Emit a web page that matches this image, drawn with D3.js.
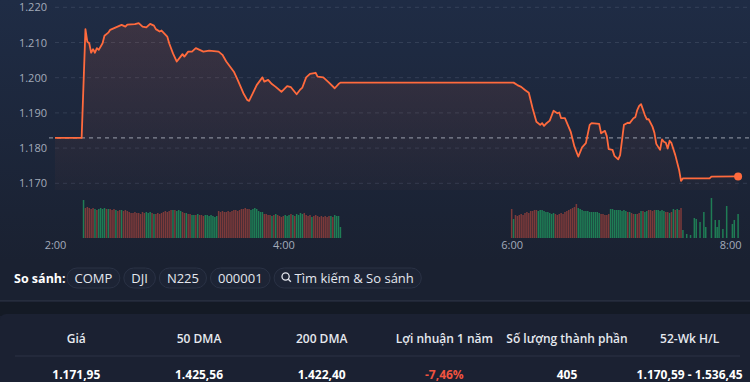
<!DOCTYPE html>
<html>
<head>
<meta charset="utf-8">
<script src="https://cdn.jsdelivr.net/npm/d3@7"></script>
<style>
html, body { margin: 0; padding: 0; background: #1a2030; overflow: hidden; }
svg { display: block; font-family: "Open Sans", "Noto Sans", sans-serif; }
</style>
</head>
<body>
<div id="chart"></div>
<script>
// ---- data ----
var prevClose = 1182.9;

var price = [
  ["2:00",1182.9],["2:14",1182.9],["2:16",1213.8],["2:17",1210.2],["2:18",1209.8],["2:19",1207.1],
  ["2:20",1208.1],["2:21",1207.1],["2:22",1208.4],["2:23",1207.9],["2:25",1209.8],["2:26",1211.9],
  ["2:28",1212.8],["2:29",1213.6],["2:32",1214.3],["2:35",1215.0],["2:37",1214.5],["2:38",1215.1],
  ["2:42",1215.2],["2:44",1215.5],["2:46",1214.5],["2:48",1214.3],["2:50",1215.3],["2:52",1214.8],
  ["2:53",1213.8],["2:55",1213.1],["2:56",1213.4],["2:59",1211.7],["3:00",1209.8],["3:02",1206.9],
  ["3:04",1204.6],["3:06",1206.0],["3:07",1206.7],["3:08",1206.0],["3:10",1207.4],["3:12",1207.4],
  ["3:14",1208.4],["3:18",1207.4],["3:21",1207.7],["3:26",1207.4],["3:28",1206.5],["3:30",1204.6],
  ["3:34",1201.7],["3:36",1199.4],["3:39",1195.6],["3:41",1193.7],["3:42",1193.4],["3:44",1195.6],
  ["3:46",1197.9],["3:49",1200.1],["3:50",1198.9],["3:52",1199.4],["3:54",1198.2],["3:56",1197.4],
  ["3:59",1196.0],["4:02",1197.6],["4:04",1197.3],["4:07",1195.3],["4:09",1196.7],["4:10",1197.2],
  ["4:12",1200.1],["4:14",1201.1],["4:17",1201.4],["4:18",1200.3],["4:21",1200.1],["4:24",1198.6],
  ["4:27",1197.0],["4:29",1198.2],["4:30",1198.6],["6:01",1198.6],["6:03",1197.9],["6:05",1197.4],
  ["6:07",1196.5],["6:09",1195.7],["6:11",1191.3],["6:13",1187.5],["6:15",1186.6],["6:16",1187.1],
  ["6:17",1186.3],["6:18",1186.9],["6:20",1187.8],["6:22",1190.6],["6:24",1189.9],["6:25",1190.1],
  ["6:26",1188.5],["6:28",1188.5],["6:31",1184.7],["6:33",1180.4],["6:35",1177.6],["6:37",1180.2],
  ["6:39",1181.4],["6:41",1186.6],["6:42",1187.1],["6:46",1186.9],["6:47",1184.2],["6:49",1184.9],
  ["6:50",1183.4],["6:51",1179.7],["6:53",1179.5],["6:54",1177.8],["6:56",1176.8],["6:57",1178.0],
  ["6:59",1186.6],["7:01",1187.2],["7:02",1187.1],["7:04",1188.5],["7:05",1188.8],["7:06",1190.8],
  ["7:07",1192.0],["7:08",1192.5],["7:10",1189.4],["7:11",1188.2],["7:12",1188.2],["7:14",1186.1],
  ["7:15",1184.4],["7:16",1181.2],["7:18",1179.5],["7:19",1182.5],["7:20",1181.8],["7:21",1181.5],
  ["7:22",1179.9],["7:23",1182.1],["7:24",1181.4],["7:26",1178.0],["7:28",1173.8],["7:29",1170.7],
  ["7:30",1171.4],["7:44",1171.4],["7:45",1171.9],["7:59",1171.95]
];

// volume, one bar per minute; g = up (green), r = down (red)
var volStart1 = "2:15";
var volume1 = [
  38,30,31,30,29,30,29,28,29,30, 29,30,29,29,29,28,29,28,27,28,
  28,27,28,27,26,25,25,26,25,25, 24,26,25,26,25,26,25,24,24,25,
  24,25,26,27,26,27,28,28,28,27, 28,27,26,25,25,24,24,23,23,23,
  24,23,23,22,23,23,22,23,22,21, 22,27,26,27,26,26,27,26,27,28,
  28,27,28,29,29,30,29,29,28,29, 30,29,27,26,26,24,24,23,23,22,
  23,24,23,22,21,22,23,22,23,24, 23,22,24,23,25,24,25,23,22,23,
  21,22,23,22,21,22,21,22,21,22, 22,21,23,22,22,11
];
var dir1 = ("grrrrrgrggggrgrrrgrrgrrrrrrrrrrrrgggrgrrrrrrrrrgrgggrrgrrggrgrrr" +
            "gggggggrrrrrrrrrrrrrrrrrgggggggrrrrgrgrrrrgggrgrggggrrrrgrrrrrrrrrgrgggg").split("");

var volStart2 = "6:00";
var volume2 = [
  29,19,23,22,23,24,23,25,26,25, 27,27,28,28,27,28,28,27,26,26,
  25,24,25,24,23,24,25,24,26,27, 28,29,30,31,34,30,29,28,27,27,
  27,26,26,26,26,26,25,24,24,23, 23,24,29,29,28,28,28,28,27,28,
  27,26,26,25,24,24,24,25,27,27, 26,27,28,28,27,28,28,28,27,28,
  27,26,26,25,26,29,28,29,28,30
];
var dir2 = ("rgrrrrrrrrrrrrgggggggggrrrrrrrrrrrrggggggggggggrrrrrggggggggg" +
            "rgrrgrrgrggrrrrgggggrrgrgrgrr").split("");

var volumeTail = [
  ["7:30",8],["7:32",4],["7:34",3],["7:36",20],["7:37",19],["7:39",16],["7:41",26],["7:42",11],
  ["7:45",40],["7:47",18],["7:48",11],["7:49",18],["7:51",9],["7:53",32],["7:56",14],["7:57",18],["7:59",24]
];

var yTicks = [1170, 1180, 1190, 1200, 1210, 1220];
var xTicks = ["2:00", "4:00", "6:00", "8:00"];

var compareItems = ["COMP", "DJI", "N225", "000001", "Tìm kiếm & So sánh"];

var statHeaders = ["Giá", "50 DMA", "200 DMA", "Lợi nhuận 1 năm", "Số lượng thành phần", "52-Wk H/L"];
var statValues = ["1.171,95", "1.425,56", "1.422,40", "-7,46%", "405", "1.170,59 - 1.536,45"];

// ---- setup ----
var width = 750, height = 382;
var vn = d3.formatLocale({decimal: ",", thousands: ".", grouping: [3], currency: ["", ""]});

function toTime(s) {
  var p = s.split(":");
  return new Date(2024, 0, 1, +p[0], +p[1]);
}
function addMin(s, m) {
  var t = toTime(s);
  return new Date(t.getTime() + m * 60000);
}

var svg = d3.select("#chart").append("svg")
  .attr("width", width)
  .attr("height", height);

var defs = svg.append("defs");
var bg = defs.append("linearGradient").attr("id", "bg").attr("x1", 0).attr("x2", 0).attr("y1", 0).attr("y2", 1);
bg.append("stop").attr("offset", "0%").attr("stop-color", "#1f2c45");
bg.append("stop").attr("offset", "100%").attr("stop-color", "#1a2131");

var areaGrad = defs.append("linearGradient").attr("id", "areaGrad")
  .attr("gradientUnits", "userSpaceOnUse").attr("x1", 0).attr("x2", 0).attr("y1", 7).attr("y2", 190);
areaGrad.append("stop").attr("offset", "0%").attr("stop-color", "#ff6a3d").attr("stop-opacity", 0.14);
areaGrad.append("stop").attr("offset", "100%").attr("stop-color", "#ff6a3d").attr("stop-opacity", 0.02);

// backgrounds
svg.append("rect").attr("width", width).attr("height", 262).attr("fill", "url(#bg)");
svg.append("rect").attr("y", 262).attr("width", width).attr("height", 40).attr("fill", "#1a2131");
svg.append("rect").attr("y", 300).attr("width", width).attr("height", 1.5).attr("fill", "#262d3d");
svg.append("rect").attr("y", 302).attr("width", width).attr("height", 14).attr("fill", "#141a25");
svg.append("rect").attr("x", 0).attr("y", 314).attr("width", width + 10).attr("height", 80)
  .attr("rx", 6).attr("fill", "#1b2132");

// scales
var x = d3.scaleTime().domain([toTime("2:00"), toTime("8:00")]).range([55, 740]);
var y = d3.scaleLinear().domain([1170, 1220]).range([183.3, 7.3]);
var yVol = d3.scaleLinear().domain([0, 40]).range([238, 198]);

// grid
svg.append("g").selectAll("line").data(yTicks).join("line")
  .attr("x1", 55).attr("x2", width)
  .attr("y1", function(d) { return y(d); }).attr("y2", function(d) { return y(d); })
  .attr("stroke", "rgba(160,175,200,0.16)")
  .attr("stroke-dasharray", "4,4");

// y axis
var yAxis = svg.append("g").attr("transform", "translate(47,0)")
  .call(d3.axisLeft(y).tickValues(yTicks).tickFormat(vn.format(",.0f")).tickSize(0).tickPadding(0));
yAxis.select(".domain").remove();
yAxis.selectAll("text").attr("fill", "#a3abba").style("font-size", "11px").style("font-family", "Open Sans");

// x axis
var xAxis = svg.append("g").attr("transform", "translate(0,241)")
  .call(d3.axisBottom(x).tickValues(xTicks.map(toTime)).tickFormat(d3.timeFormat("%-H:%M")).tickSize(0).tickPadding(0));
xAxis.select(".domain").remove();
xAxis.selectAll("text").attr("fill", "#a3abba").style("font-size", "11px").style("font-family", "Open Sans");
xAxis.selectAll(".tick").filter(function(d, i) { return i === xTicks.length - 1; })
  .select("text").attr("text-anchor", "end").attr("dx", 1);

// volume bars
var bars = [];
volume1.forEach(function(v, i) { bars.push({t: addMin(volStart1, i), v: v, d: dir1[i] || "g"}); });
volume2.forEach(function(v, i) { bars.push({t: addMin(volStart2, i), v: v, d: dir2[i] || "g"}); });
volumeTail.forEach(function(d) { bars.push({t: toTime(d[0]), v: d[1], d: "g"}); });

svg.append("g").selectAll("rect").data(bars).join("rect")
  .attr("x", function(d) { return x(d.t) - 0.75; })
  .attr("width", 1.5)
  .attr("y", function(d) { return yVol(d.v); })
  .attr("height", function(d) { return yVol(0) - yVol(d.v); })
  .attr("fill", function(d) { return d.d === "g" ? "#1f7d55" : "#7c3a3a"; });

// price area + line
var pts = price.map(function(d) { return {t: toTime(d[0]), v: d[1]}; });

var area = d3.area()
  .x(function(d) { return x(d.t); })
  .y0(190)
  .y1(function(d) { return y(d.v); });
svg.append("path").datum(pts).attr("d", area).attr("fill", "url(#areaGrad)");

// previous close reference
svg.append("line")
  .attr("x1", 49).attr("x2", width)
  .attr("y1", y(prevClose)).attr("y2", y(prevClose))
  .attr("stroke", "rgba(210,215,225,0.55)")
  .attr("stroke-width", 1.2)
  .attr("stroke-dasharray", "4,4");

var line = d3.line()
  .x(function(d) { return x(d.t); })
  .y(function(d) { return y(d.v); });
svg.append("path").datum(pts).attr("d", line)
  .attr("fill", "none")
  .attr("stroke", "#ff6a3d")
  .attr("stroke-width", 1.8)
  .attr("stroke-linejoin", "round");

var last = pts[pts.length - 1];
svg.append("circle").attr("cx", x(last.t)).attr("cy", y(last.v)).attr("r", 4).attr("fill", "#ff6a3d");

// compare row
svg.append("text").attr("x", 14).attr("y", 283)
  .attr("fill", "#ffffff").style("font-size", "12.5px").style("font-weight", 700)
  .text("So sánh:");

var px = 67;
compareItems.forEach(function(name, i) {
  var g = svg.append("g");
  var isSearch = i === compareItems.length - 1;
  var rect = g.append("rect").attr("y", 268).attr("height", 20).attr("rx", 10)
    .attr("fill", "#1d2435").attr("stroke", "#2a3245");
  var tx = px + 7.5 + (isSearch ? 13 : 0);
  var t = g.append("text").attr("x", tx).attr("y", 282.5)
    .attr("fill", "#e4e7ee").style("font-size", "13px").text(name);
  var w = t.node().getComputedTextLength() + 15 + (isSearch ? 13 : 0);
  rect.attr("x", px).attr("width", w);
  if (isSearch) {
    g.append("circle").attr("cx", px + 11.5).attr("cy", 276.5).attr("r", 3.6)
      .attr("fill", "none").attr("stroke", "#e4e7ee").attr("stroke-width", 1.3);
    g.append("line").attr("x1", px + 14.2).attr("y1", 279.2).attr("x2", px + 16.8).attr("y2", 281.8)
      .attr("stroke", "#e4e7ee").attr("stroke-width", 1.4);
  }
  px += w + 4;
});

// stats table
var col = d3.scaleBand().domain(statHeaders).range([15, 751]);

svg.append("g").selectAll("text").data(statHeaders).join("text")
  .attr("x", function(d) { return col(d) + col.bandwidth() / 2; })
  .attr("y", 343)
  .attr("text-anchor", "middle")
  .attr("fill", "#e6e9ef")
  .style("font-size", "12px").style("font-weight", 600)
  .text(function(d) { return d; });

svg.append("line").attr("x1", 15).attr("x2", 740).attr("y1", 356).attr("y2", 356)
  .attr("stroke", "#2c3345").attr("stroke-width", 1.2);

svg.append("g").selectAll("text").data(statValues).join("text")
  .attr("x", function(d, i) { return col(statHeaders[i]) + col.bandwidth() / 2; })
  .attr("y", 378.5)
  .attr("text-anchor", "middle")
  .attr("fill", function(d) { return d.charAt(0) === "-" ? "#f0533f" : "#ffffff"; })
  .style("font-size", "12px").style("font-weight", 700)
  .text(function(d) { return d; });
</script>
</body>
</html>
